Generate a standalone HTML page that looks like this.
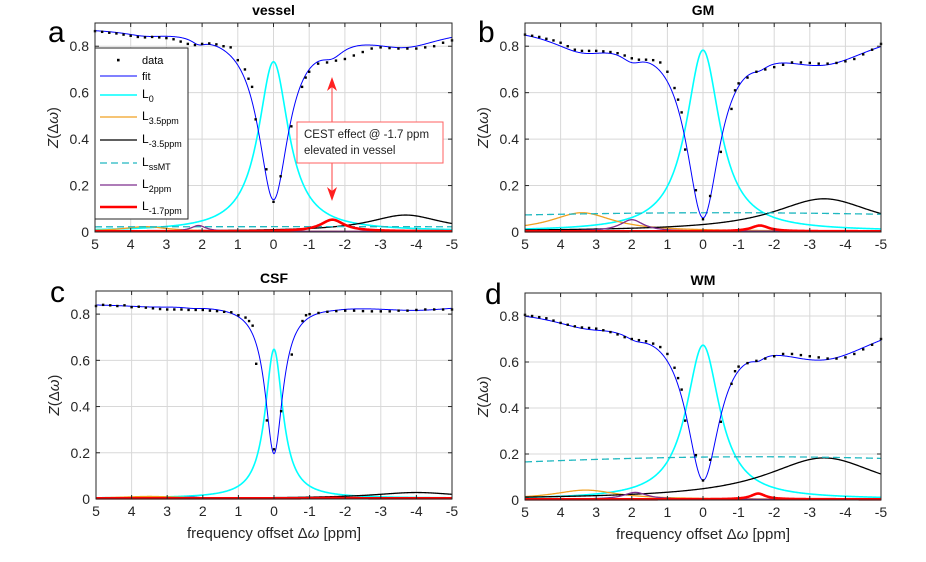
<!DOCTYPE html>
<html><head><meta charset="utf-8"><style>
body{margin:0;background:#fff;}
svg{display:block;font-family:"Liberation Sans",Arial,sans-serif;}
</style></head><body>
<svg id="fig" width="926" height="562" viewBox="0 0 926 562" xmlns="http://www.w3.org/2000/svg"></svg>
<script>
// ---- data ----
const poolNames = ["L0","L3.5ppm","L-3.5ppm","LssMT","L2ppm","L-1.7ppm"];
const xTicks = [5,4,3,2,1,0,-1,-2,-3,-4,-5];
const xTickLabels = ["5","4","3","2","1","0","-1","-2","-3","-4","-5"];
const yTicks = [0,0.2,0.4,0.6,0.8];
const yTickLabels = ["0","0.2","0.4","0.6","0.8"];
const dataOffsets = [5,4.8,4.6,4.4,4.2,4,3.8,3.6,3.4,3.2,3,2.8,2.6,2.4,2.2,2,1.8,1.6,1.4,1.2,
  1,0.8,0.7,0.6,0.5,0.2,0,-0.2,-0.5,-0.8,-0.9,-1,
  -1.25,-1.5,-1.75,-2,-2.25,-2.5,-2.75,-3,-3.25,-3.5,-3.75,-4,-4.25,-4.5,-4.75,-5];

const vesselZref = 0.9;
const vesselAmp = [0.73,0.02,0.07,0.02,0.025,0.05];
const vesselCenter = [0,3.6,-3.7,-1,2.1,-1.65];
const vesselWidth = [1.03,1.5,2.5,60,0.5,0.8];
const vesselData = [0.865,0.862,0.858,0.855,0.85,0.845,0.84,0.838,0.84,0.838,0.835,0.83,0.82,0.81,0.805,0.81,0.812,0.808,0.80,0.795,
  0.74,0.70,0.66,0.625,0.485,0.27,0.13,0.24,0.455,0.625,0.665,0.69,
  0.725,0.73,0.738,0.745,0.76,0.775,0.79,0.795,0.792,0.79,0.79,0.79,0.795,0.80,0.815,0.825];

const gmZref = 0.96;
const gmAmp = [0.78,0.08,0.14,0.08,0.05,0.025];
const gmCenter = [0,3.4,-3.4,-0.5,2,-1.6];
const gmWidth = [1.15,2.15,3.5,30,0.8,0.6];
const gmData = [0.85,0.845,0.84,0.832,0.825,0.815,0.80,0.785,0.78,0.78,0.78,0.778,0.775,0.77,0.76,0.748,0.742,0.742,0.74,0.73,
  0.69,0.62,0.57,0.515,0.355,0.18,0.055,0.155,0.345,0.53,0.61,0.64,
  0.665,0.69,0.70,0.71,0.72,0.73,0.73,0.728,0.725,0.725,0.728,0.735,0.745,0.765,0.785,0.81];

const csfZref = 0.845;
const csfAmp = [0.645,0.008,0.025,0,0.005,0.002];
const csfCenter = [0,3.5,-4,0,2.3,-1.7];
const csfWidth = [0.6,2,3,30,0.6,0.6];
const csfData = [0.835,0.84,0.838,0.835,0.838,0.83,0.832,0.828,0.825,0.822,0.82,0.82,0.82,0.818,0.818,0.818,0.815,0.813,0.81,0.808,
  0.795,0.785,0.77,0.75,0.585,0.34,0.215,0.38,0.625,0.77,0.795,0.80,
  0.805,0.81,0.813,0.815,0.815,0.813,0.812,0.812,0.812,0.815,0.815,0.818,0.82,0.82,0.82,0.82];

const wmZref = 0.992;
const wmAmp = [0.67,0.04,0.18,0.185,0.03,0.025];
const wmCenter = [0,3.3,-3.4,-1.5,1.9,-1.55];
const wmWidth = [1.14,2.2,4,35,0.8,0.5];
const wmData = [0.805,0.80,0.795,0.79,0.78,0.77,0.762,0.755,0.75,0.748,0.745,0.738,0.73,0.72,0.708,0.70,0.695,0.69,0.68,0.665,
  0.635,0.575,0.53,0.48,0.345,0.195,0.085,0.175,0.34,0.505,0.56,0.58,
  0.595,0.605,0.615,0.625,0.635,0.635,0.63,0.625,0.62,0.615,0.615,0.62,0.635,0.655,0.675,0.70];

// ---- drawing ----
const NS = "http://www.w3.org/2000/svg";
const svg = document.getElementById("fig");
function mk(tag, attrs, parent){
  const e = document.createElementNS(NS, tag);
  for (const k in attrs) e.setAttribute(k, attrs[k]);
  (parent||svg).appendChild(e);
  return e;
}
const poolColors = ["#00ffff","#f0a020","#000000","#20b8c0","#7e2f8e","#ff0000"];
const poolWidths = [1.6,1.3,1.3,1.3,1.3,2.6];

function lor(x,a,c,w){ return a/(1+4*((x-c)/w)*((x-c)/w)); }

function panel(p){
  const g = mk("g",{});
  
  
  const L=p.left, R=p.right, Y0=p.y0, per=(p.y0-p.top)/0.9;
  const sx = x => L + (5-x)/10*(R-L);
  const sy = y => Y0 - y*per;
  for (let i=0;i<xTicks.length;i++){
    const gl = mk("line",{x1:sx(xTicks[i]),x2:sx(xTicks[i]),y1:p.top,y2:Y0,stroke:"#d8d8d8","stroke-width":1},g);
    
    
  }
  for (let i=0;i<yTicks.length;i++){
    const gl = mk("line",{x1:L,x2:R,y1:sy(yTicks[i]),y2:sy(yTicks[i]),stroke:"#d8d8d8","stroke-width":1},g);
    
    
  }
  for (let k=0;k<poolNames.length;k++){
    let d="";
    for (let x=5;x>=-5.0001;x-=0.02){
      d += (d?"L":"M")+sx(x).toFixed(2)+","+sy(lor(x,p.amp[k],p.center[k],p.width[k])+0.003).toFixed(2);
    }
    const attrs={d:d,fill:"none",stroke:poolColors[k],"stroke-width":poolWidths[k]};
    if (k===3) attrs["stroke-dasharray"]="7,4";
    const pl = mk("path",attrs,g);
    
    
  }
  let d="";
  for (let x=5;x>=-5.0001;x-=0.02){
    let z=p.zref;
    for (let k=0;k<poolNames.length;k++) z-=lor(x,p.amp[k],p.center[k],p.width[k]);
    d += (d?"L":"M")+sx(x).toFixed(2)+","+sy(z).toFixed(2);
  }
  const fit = mk("path",{d:d,fill:"none",stroke:"#0000ff","stroke-width":1},g);
  
  
  for (let i=0;i<dataOffsets.length;i++){
    const c = mk("rect",{x:sx(dataOffsets[i])-1.2,y:sy(p.data[i])-1.2,width:2.4,height:2.4,fill:"#000"},g);
    
    
  }
  const box = mk("rect",{x:L,y:p.top,width:R-L,height:Y0-p.top,fill:"none",stroke:"#262626","stroke-width":1},g);
  
  
  for (let i=0;i<xTicks.length;i++){
    mk("line",{x1:sx(xTicks[i]),x2:sx(xTicks[i]),y1:Y0,y2:Y0-4,stroke:"#262626"},g);
    mk("line",{x1:sx(xTicks[i]),x2:sx(xTicks[i]),y1:p.top,y2:p.top+4,stroke:"#262626"},g);
    const t = mk("text",{x:sx(xTicks[i]),y:Y0+17,"text-anchor":"middle","font-size":14,fill:"#262626"},g);
    t.textContent = xTickLabels[i];
    
    
  }
  for (let i=0;i<yTicks.length;i++){
    mk("line",{x1:L,x2:L+4,y1:sy(yTicks[i]),y2:sy(yTicks[i]),stroke:"#262626"},g);
    mk("line",{x1:R,x2:R-4,y1:sy(yTicks[i]),y2:sy(yTicks[i]),stroke:"#262626"},g);
    const t = mk("text",{x:L-6,y:sy(yTicks[i])+5,"text-anchor":"end","font-size":14,fill:"#262626"},g);
    t.textContent = yTickLabels[i];
    
    
  }
  const ti = mk("text",{x:(L+R)/2,y:p.top-8,"text-anchor":"middle","font-size":14,"font-weight":"bold",fill:"#000"},g);
  ti.textContent = p.title;
  
  
  const le = mk("text",{x:p.lx,y:p.ly,"font-size":p.lsize,fill:"#000"},g);
  le.textContent = p.letter;
  
  
  const yl = mk("text",{x:0,y:0,transform:"translate("+(L-37)+","+((p.top+Y0)/2)+") rotate(-90)","text-anchor":"middle","font-size":15,fill:"#262626"},g);
  yl.innerHTML = '<tspan font-style="italic">Z</tspan>(\u0394<tspan font-style="italic">\u03c9</tspan>)';
  
  
  if (p.xlabel){
    const xl = mk("text",{x:(L+R)/2,y:Y0+39,"text-anchor":"middle","font-size":15,fill:"#262626"},g);
    xl.innerHTML = 'frequency offset \u0394<tspan font-style="italic">\u03c9</tspan> [ppm]';
    
    
  }
  return {sx,sy};
}

panel({name:"vessel",title:"vessel",letter:"a",lx:48,ly:42,lsize:30,left:95,right:452,top:23,y0:232,zref:vesselZref,amp:vesselAmp,center:vesselCenter,width:vesselWidth,data:vesselData});
panel({name:"gm",title:"GM",letter:"b",lx:478,ly:42,lsize:30,left:525,right:881,top:23,y0:232,zref:gmZref,amp:gmAmp,center:gmCenter,width:gmWidth,data:gmData});
panel({name:"csf",title:"CSF",letter:"c",lx:50,ly:302,lsize:30,left:96,right:452,top:291,y0:499,zref:csfZref,amp:csfAmp,center:csfCenter,width:csfWidth,data:csfData,xlabel:true});
panel({name:"wm",title:"WM",letter:"d",lx:485,ly:304,lsize:30,left:525,right:881,top:293,y0:500,zref:wmZref,amp:wmAmp,center:wmCenter,width:wmWidth,data:wmData,xlabel:true});

const lg = mk("g",{});


mk("rect",{x:95,y:48,width:93,height:171,fill:"#fff",stroke:"#262626","stroke-width":1},lg);
const legY = [60,76,95,117,140,163,185,207];
const dp = mk("rect",{x:117,y:58.8,width:2.6,height:2.6,fill:"#000"},lg);


const t0 = mk("text",{x:142,y:64,"font-size":11,fill:"#000"},lg); t0.textContent="data";
mk("line",{x1:100,x2:137,y1:76,y2:76,stroke:"#0000ff","stroke-width":1},lg);
const t1 = mk("text",{x:142,y:80,"font-size":11,fill:"#000"},lg); t1.textContent="fit";
const subs = ["0","3.5ppm","-3.5ppm","ssMT","2ppm","-1.7ppm"];
for (let k=0;k<6;k++){
  const y = legY[k+2];
  const a={x1:100,x2:137,y1:y,y2:y,stroke:poolColors[k],"stroke-width":poolWidths[k]};
  if (k===3) a["stroke-dasharray"]="7,4";
  const ln = mk("line",a,lg);
  
  
  const t = mk("text",{x:142,y:y+3,"font-size":12,fill:"#000"},lg);
  t.innerHTML = 'L<tspan dy="4" font-size="9">'+subs[k]+'</tspan>';
  
  
}

const an = mk("g",{});


mk("line",{x1:332,x2:332,y1:82,y2:196,stroke:"#ff4040","stroke-width":1},an);
mk("polygon",{points:"332,77 327,91 332,87 337,91",fill:"#ff2020"},an);
mk("polygon",{points:"332,201 327,187 332,191 337,187",fill:"#ff2020"},an);
mk("rect",{x:297,y:122,width:146,height:41,fill:"#fff",stroke:"#ff6060","stroke-width":1},an);
const a1 = mk("text",{x:304,y:138,"font-size":11.5,fill:"#222"},an); a1.textContent="CEST effect @ -1.7 ppm";
const a2 = mk("text",{x:304,y:154,"font-size":11.5,fill:"#222"},an); a2.textContent="elevated in vessel";
</script>
</body></html>
